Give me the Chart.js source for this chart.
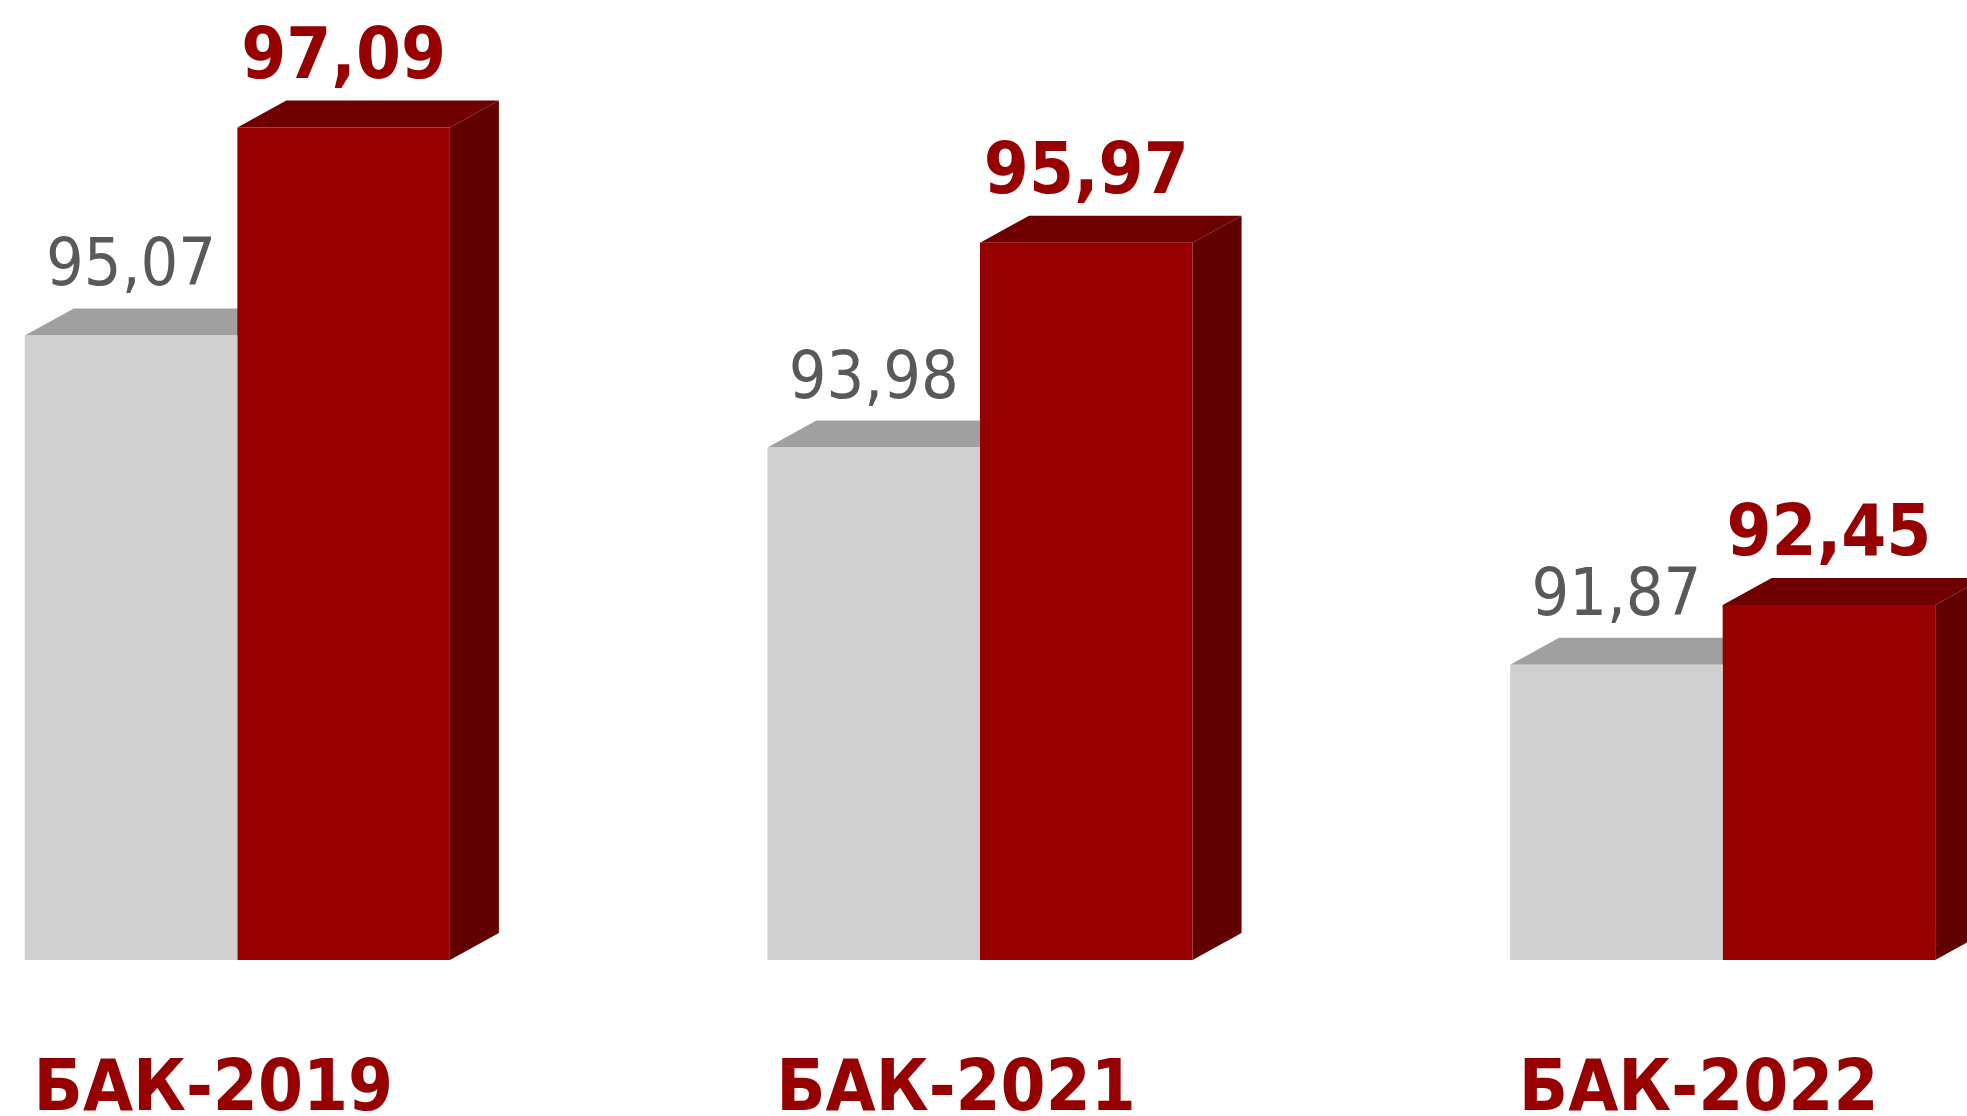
<!DOCTYPE html>
<html>
<head>
<meta charset="utf-8">
<script src="https://cdn.jsdelivr.net/npm/chart.js@4.4.1/dist/chart.umd.min.js"></script>
<style>
html, body { margin: 0; padding: 0; background: #fff; overflow: hidden; width: 1967px; height: 1116px; }
#wrap { position: absolute; left: -134px; top: 0; width: 2228px; height: 1116px; }
</style>
</head>
<body>
<div id="wrap"><canvas id="myChart"></canvas></div>
<script>
var labels = ['БАК-2019', 'БАК-2021', 'БАК-2022'];
var greyValues = [95.07, 93.98, 91.87];
var redValues = [97.09, 95.97, 92.45];

var fontFamily = "'DejaVu Sans Condensed', 'DejaVu Sans', sans-serif";

// depth of the fake 3d box
var depthX = 49;
var depthY = -27;

var faces = [
    { top: '#a0a0a0', side: '#b4b4b4', text: '#595959', font: 'normal 66px ' + fontFamily },
    { top: '#700000', side: '#600000', text: '#960000', font: 'bold 72px ' + fontFamily }
];

function fmt(v) {
    return v.toFixed(2).replace('.', ',');
}

var box3d = {
    id: 'box3d',
    beforeDatasetsDraw: function (chart) {
        var c = chart.ctx;
        var bottom = chart.chartArea.bottom;
        c.save();
        chart.data.datasets.forEach(function (ds, i) {
            chart.getDatasetMeta(i).data.forEach(function (bar) {
                var p = bar.getProps(['x', 'y', 'base', 'width'], true);
                var l = p.x - p.width / 2;
                var r = p.x + p.width / 2;
                var b = Math.min(p.base, bottom);
                c.fillStyle = faces[i].top;
                c.beginPath();
                c.moveTo(l, p.y);
                c.lineTo(l + depthX, p.y + depthY);
                c.lineTo(r + depthX, p.y + depthY);
                c.lineTo(r, p.y);
                c.closePath();
                c.fill();
                c.fillStyle = faces[i].side;
                c.beginPath();
                c.moveTo(r, p.y);
                c.lineTo(r + depthX, p.y + depthY);
                c.lineTo(r + depthX, b + depthY);
                c.lineTo(r, b);
                c.closePath();
                c.fill();
            });
        });
        c.restore();
    },
    afterDatasetsDraw: function (chart) {
        var c = chart.ctx;
        c.save();
        c.textAlign = 'center';
        c.textBaseline = 'alphabetic';
        chart.data.datasets.forEach(function (ds, i) {
            c.font = faces[i].font;
            c.fillStyle = faces[i].text;
            chart.getDatasetMeta(i).data.forEach(function (bar, j) {
                c.fillText(fmt(ds.data[j]), bar.x, bar.y - 50);
            });
        });
        c.restore();
    }
};

var ctx = document.getElementById('myChart').getContext('2d');

var myChart = new Chart(ctx, {
    type: 'bar',
    data: {
        labels: labels,
        datasets: [
            {
                label: 'grey',
                data: greyValues,
                base: 89,
                backgroundColor: '#d1d0d1',
                borderWidth: 0,
                categoryPercentage: 0.5724,
                barPercentage: 1.0
            },
            {
                label: 'red',
                data: redValues,
                base: 89,
                backgroundColor: '#960000',
                borderWidth: 0,
                categoryPercentage: 0.5724,
                barPercentage: 1.0
            }
        ]
    },
    options: {
        responsive: true,
        maintainAspectRatio: false,
        animation: false,
        layout: { padding: 0 },
        plugins: {
            legend: { display: false },
            tooltip: { enabled: false }
        },
        scales: {
            y: {
                display: false,
                min: 89,
                max: 98.33
            },
            x: {
                grid: { display: false },
                border: { display: false },
                afterFit: function (scale) {
                    scale.height = 156;
                },
                ticks: {
                    color: '#960000',
                    padding: 80,
                    labelOffset: -24,
                    maxRotation: 0,
                    autoSkip: false,
                    font: { family: fontFamily, size: 72, weight: 'bold' }
                }
            }
        }
    },
    plugins: [box3d]
});
</script>
</body>
</html>
